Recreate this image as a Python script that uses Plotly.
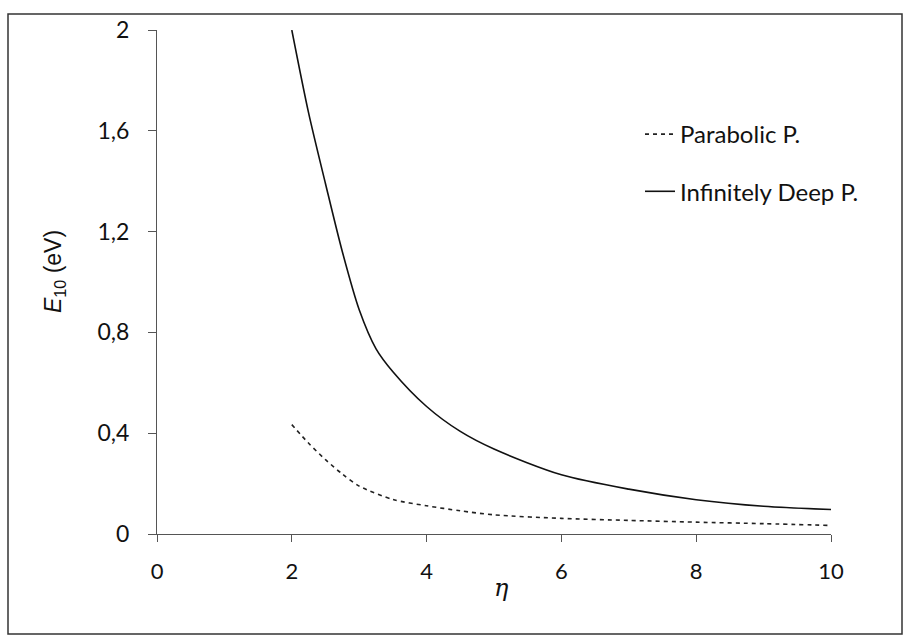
import plotly.graph_objects as go

# Data
eta_deep = [2.0, 2.25, 2.5, 2.75, 3.0, 3.25, 3.5, 4.0, 4.5, 5.0, 6.0, 7.0, 8.0, 9.0, 10.0]
e_deep = [2.0, 1.67, 1.39, 1.12, 0.89, 0.735, 0.644, 0.506, 0.407, 0.337, 0.235, 0.178, 0.136, 0.110, 0.097]

eta_para = [2.0, 2.25, 2.5, 2.75, 3.0, 3.5, 4.0, 4.5, 5.0, 6.0, 7.0, 8.0, 9.0, 10.0]
e_para = [0.434, 0.36, 0.295, 0.238, 0.19, 0.137, 0.112, 0.092, 0.076, 0.062, 0.054, 0.047, 0.041, 0.034]

x_ticks = [0, 2, 4, 6, 8, 10]
x_ticklabels = ["0", "2", "4", "6", "8", "10"]
y_ticks = [0, 0.4, 0.8, 1.2, 1.6, 2.0]
y_ticklabels = ["0", "0,4", "0,8", "1,2", "1,6", "2"]

FONT = "Lato, 'Open Sans', sans-serif"
W, H = 903, 635
L, R, T, B = 157, 72, 30, 101
pw, ph = W - L - R, H - T - B

fig = go.Figure()
fig.add_trace(go.Scatter(x=eta_para, y=e_para, mode="lines", name="Parabolic P.",
                         legendgroup="a",
                         line=dict(color="#222", width=1.6, dash="4px,4px",
                                   shape="spline", smoothing=0.8)))
fig.add_trace(go.Scatter(x=eta_deep, y=e_deep, mode="lines", name="Infinitely Deep P.",
                         legendgroup="b",
                         line=dict(color="#111", width=1.6, shape="spline", smoothing=0.8)))

fig.update_layout(
    width=W, height=H,
    margin=dict(l=L, r=R, t=T, b=B),
    paper_bgcolor="white", plot_bgcolor="white",
    font=dict(family=FONT, size=22, color="#111"),
    showlegend=True,
    legend=dict(x=(640 - L) / pw, y=(534 - 112) / ph, xanchor="left", yanchor="top",
                bgcolor="rgba(0,0,0,0)", font=dict(size=24, family=FONT),
                traceorder="grouped", tracegroupgap=23),
    xaxis=dict(range=[0, 10], tickvals=x_ticks, ticktext=x_ticklabels,
               showgrid=False, zeroline=False, showline=True, linecolor="#555",
               linewidth=1.2, ticks="outside", ticklen=7, tickcolor="#555",
               ticklabelstandoff=10, tickfont=dict(size=22, family=FONT)),
    yaxis=dict(range=[0, 2], tickvals=y_ticks, ticktext=y_ticklabels,
               showgrid=False, zeroline=False, showline=True, linecolor="#555",
               linewidth=1.2, ticks="outside", ticklen=8, tickcolor="#555",
               ticklabelstandoff=14, tickfont=dict(size=23, family=FONT)),
    shapes=[dict(type="rect", xref="paper", yref="paper",
                 x0=(8 - L) / pw, x1=(902 - L) / pw,
                 y0=(534 - 634) / ph, y1=(534 - 14) / ph,
                 line=dict(color="#333", width=1.5))],
    annotations=[
        dict(text="<i>E</i><sub>10</sub> (eV)", xref="paper", yref="paper",
             x=(54 - L) / pw, y=(534 - 272) / ph, showarrow=False, textangle=-90,
             font=dict(size=23, family="'Liberation Sans', Arial, sans-serif"),
             xanchor="center", yanchor="middle"),
        dict(text="<i>η</i>", xref="paper", yref="paper",
             x=(501 - L) / pw, y=(534 - 588) / ph, showarrow=False,
             font=dict(size=24, family="'DejaVu Serif', serif"),
             xanchor="center", yanchor="middle"),
    ],
)

fig.write_html("out.html")
